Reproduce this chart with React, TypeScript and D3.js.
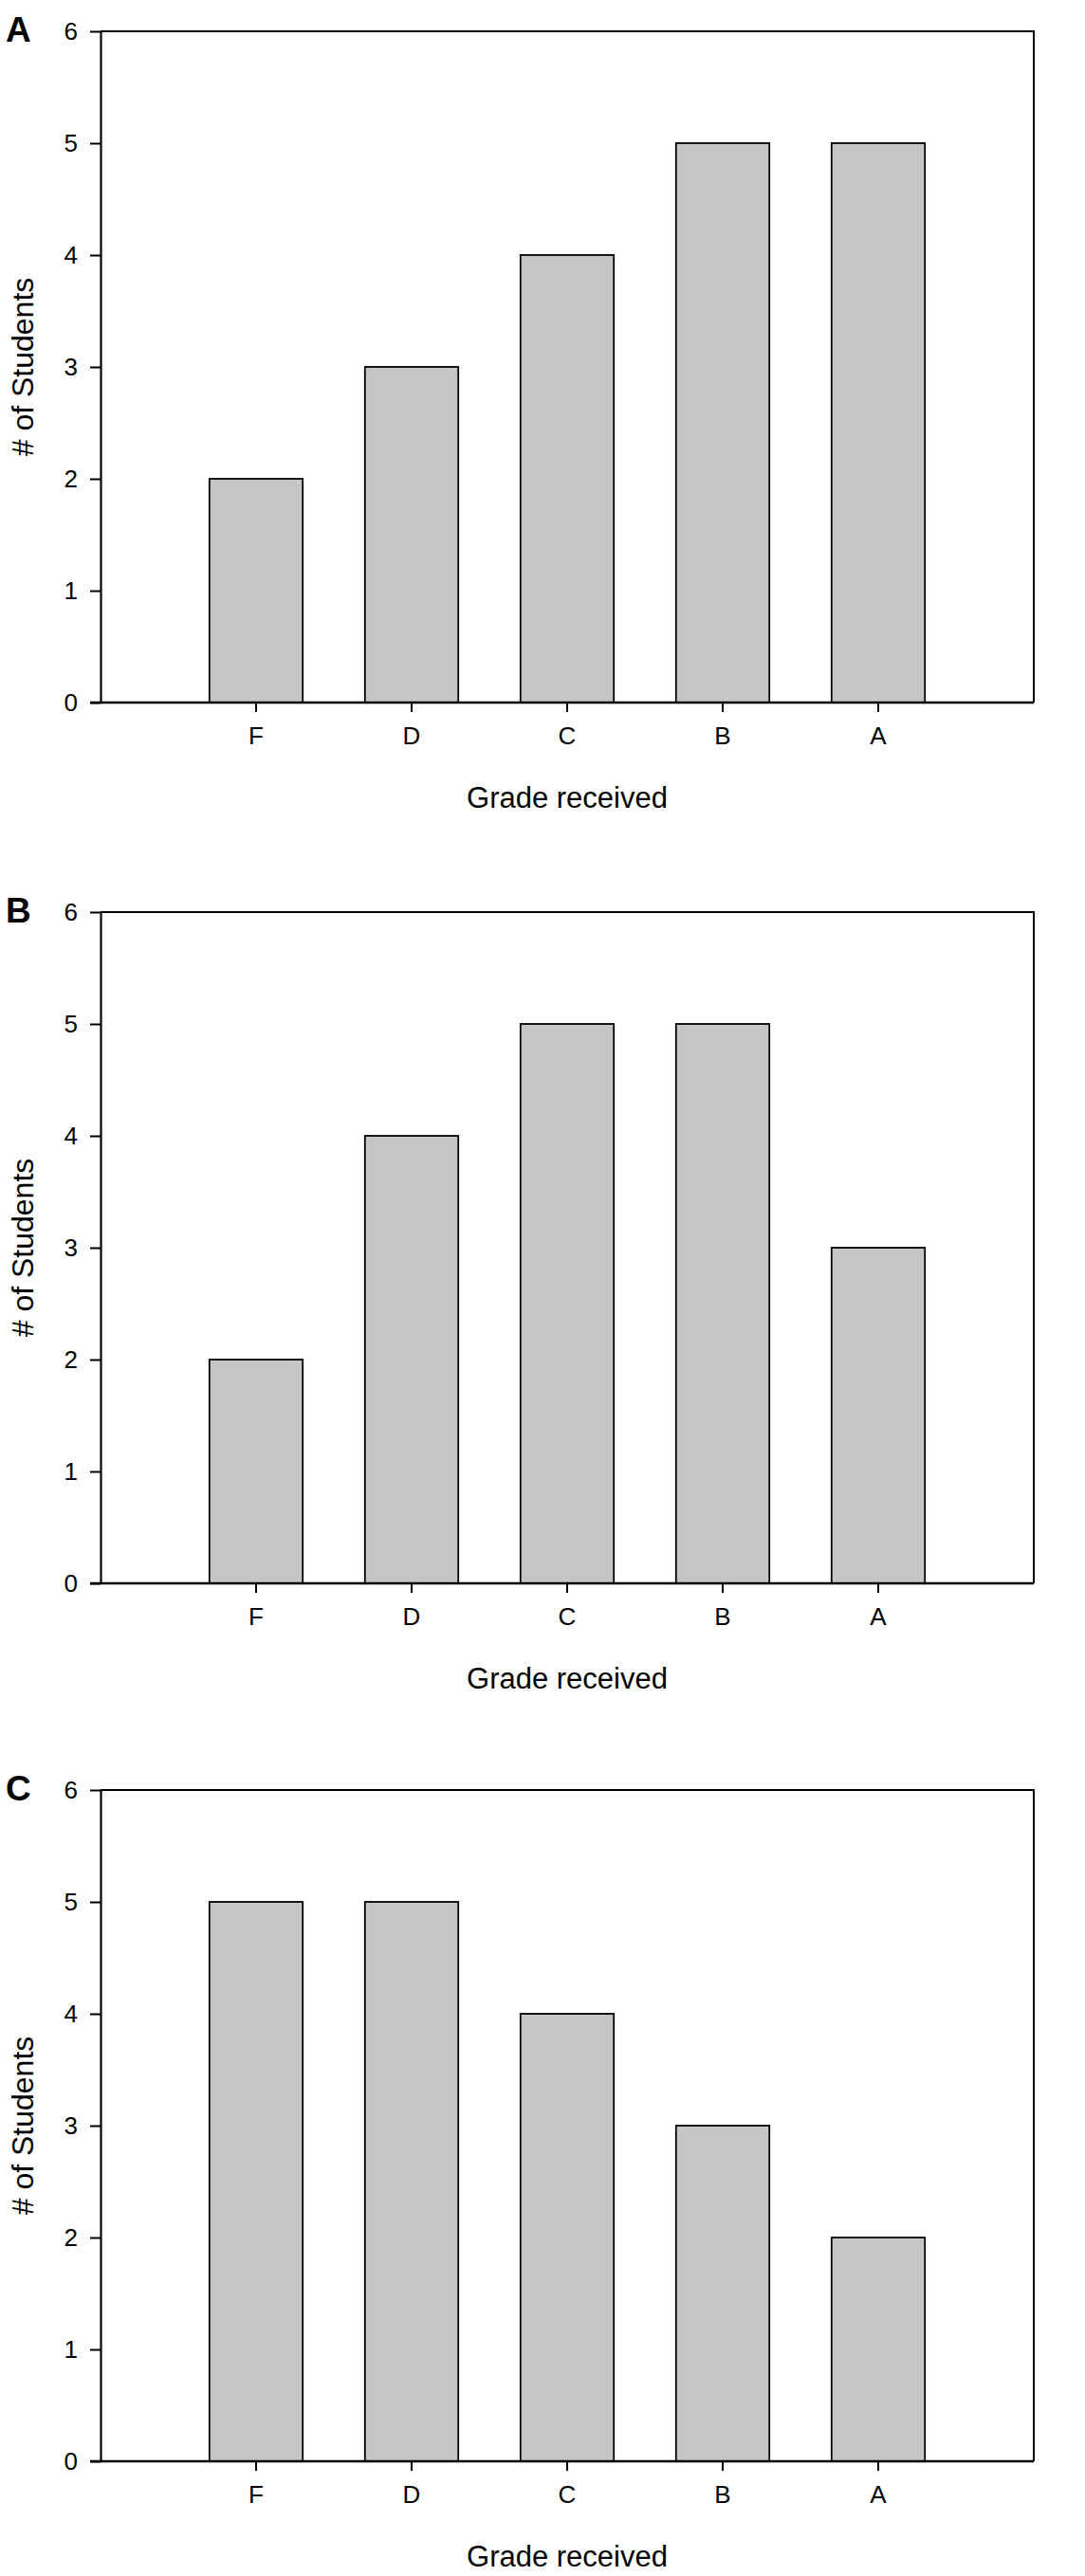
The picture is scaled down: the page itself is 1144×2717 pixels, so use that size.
import React, { useRef, useEffect } from "react";
import * as d3 from "d3";

// Grades on the x axis, in drawing order
const grades = ["F", "D", "C", "B", "A"];

// Student counts per grade, one array per panel
const countsA = [2, 3, 4, 5, 5];
const countsB = [2, 4, 5, 5, 3];
const countsC = [5, 5, 4, 3, 2];

const panelLabels = ["A", "B", "C"];
const panelCounts = [countsA, countsB, countsC];

const yTicks = [0, 1, 2, 3, 4, 5, 6];
const yMax = 6;

const xTitle = "Grade received";
const yTitle = "# of Students";

const App = () => {
  const svgRef = useRef<SVGSVGElement>(null);

  useEffect(() => {
    if (!svgRef.current) return;

    const svg = d3.select(svgRef.current);
    svg.selectAll("*").remove();

    const width = 1144;
    const height = 2717;
    const plotLeft = 106;
    const plotRight = 1090;
    const plotHeight = 708;
    const panelTops = [33, 962, 1888];
    const font = "'Liberation Sans', Arial, Helvetica, sans-serif";

    svg
      .attr("viewBox", [0, 0, width, height])
      .attr("width", width)
      .attr("height", height)
      .style("font-family", font)
      .style("background", "#ffffff");

    const x = d3
      .scaleBand<string>()
      .domain(grades)
      .range([plotLeft, plotRight])
      .paddingInner(0.4)
      .paddingOuter(0.7);

    panelCounts.forEach((counts, p) => {
      const top = panelTops[p];
      const bottom = top + plotHeight;
      const y = d3.scaleLinear([0, yMax], [bottom, top]);

      const g = svg.append("g");

      // Bars
      g.append("g")
        .selectAll("rect")
        .data(counts)
        .join("rect")
        .attr("x", (_, i) => x(grades[i]) as number)
        .attr("y", (d) => y(d))
        .attr("width", x.bandwidth())
        .attr("height", (d) => y(0) - y(d))
        .attr("fill", "#c6c6c6")
        .attr("stroke", "#000")
        .attr("stroke-width", 1.8);

      // Frame (top and right sides)
      g.append("path")
        .attr("fill", "none")
        .attr("stroke", "#000")
        .attr("stroke-width", 2)
        .attr("d", `M${plotLeft},${top}H${plotRight}V${bottom}`);

      // Y axis
      g.append("g")
        .attr("transform", `translate(${plotLeft},0)`)
        .call(
          d3
            .axisLeft(y)
            .tickValues(yTicks)
            .tickFormat(d3.format("d"))
            .tickSize(11)
            .tickPadding(13)
            .tickSizeOuter(0)
        )
        .call((s) => s.select(".domain").attr("stroke-width", 2.2))
        .call((s) => s.selectAll(".tick line").attr("stroke-width", 2))
        .call((s) =>
          s
            .selectAll(".tick text")
            .attr("font-size", 26)
            .attr("font-family", font)
            .attr("fill", "#000")
        );

      // X axis
      g.append("g")
        .attr("transform", `translate(0,${bottom})`)
        .call(d3.axisBottom(x).tickSize(10).tickPadding(16).tickSizeOuter(0))
        .call((s) =>
          s
            .select(".domain")
            .attr("d", `M${plotLeft - 11},0H${plotRight}`)
            .attr("stroke-width", 2.6)
        )
        .call((s) => s.selectAll(".tick line").attr("stroke-width", 2))
        .call((s) =>
          s
            .selectAll(".tick text")
            .attr("font-size", 26)
            .attr("font-family", font)
            .attr("fill", "#000")
        );

      // Axis titles
      g.append("text")
        .attr("x", (plotLeft + plotRight) / 2)
        .attr("y", bottom + 111)
        .attr("text-anchor", "middle")
        .attr("font-size", 31)
        .attr("fill", "#000")
        .text(xTitle);

      g.append("text")
        .attr(
          "transform",
          `translate(35,${(top + bottom) / 2}) rotate(-90)`
        )
        .attr("text-anchor", "middle")
        .attr("font-size", 32)
        .attr("fill", "#000")
        .text(yTitle);

      // Panel letter
      g.append("text")
        .attr("x", 6)
        .attr("y", top + 11)
        .attr("font-size", 37)
        .attr("font-weight", "bold")
        .attr("fill", "#000")
        .text(panelLabels[p]);
    });
  }, []);

  return (
    <svg
      ref={svgRef}
      style={{ position: "absolute", left: 0, top: 0, display: "block" }}
    ></svg>
  );
};

export default App;
